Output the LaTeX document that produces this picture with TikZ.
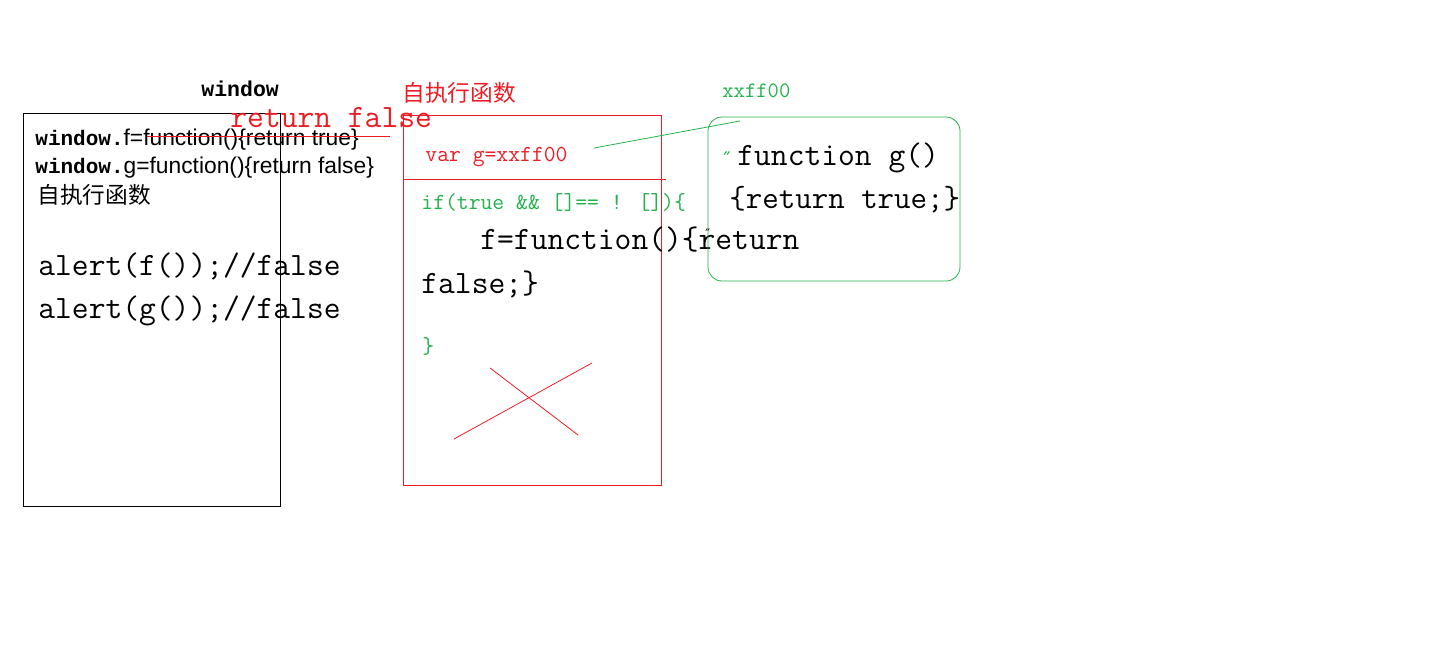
\documentclass[tikz,border=0pt]{standalone}
\usepackage{fontspec}
\newfontfamily\cjk{Noto Sans CJK SC}
\newfontfamily\arial{Liberation Sans}
\newfontfamily\monob{Liberation Mono}
\newfontfamily\dejavu{DejaVu Sans}
\definecolor{pred}{RGB}{237,28,36}
\definecolor{pgreen}{RGB}{34,177,76}

\begin{document}
\begin{tikzpicture}[x=1pt,y=-1pt,line width=0.8pt]
\tikzstyle{txt}=[anchor=base west,inner sep=0]
\tikzstyle{big}=[txt,font=\ttfamily\fontsize{32.6}{33}\selectfont]
\tikzstyle{small}=[txt,font=\ttfamily\fontsize{23}{23}\selectfont]
\tikzstyle{han}=[txt,font=\cjk\fontsize{22.7}{23}\selectfont]
\tikzstyle{sans}=[txt,font=\arial\fontsize{22.8}{23}\selectfont]
\tikzstyle{box}=[draw,inner sep=0]
\useasboundingbox (0,0) rectangle (1442,648);
\begin{scope}
\node[box,minimum width=257,minimum height=393] (win) at (151.5,309.5) {};
\node[txt,font=\monob\bfseries\fontsize{21.5}{22}\selectfont] (title) at (201,96) {window};
\node[sans] (f) at (35,145) {{\monob\bfseries\fontsize{21}{22}\selectfont window.}f=function()\{return true\}};
\node[sans] (g) at (35,173) {{\monob\bfseries\fontsize{21}{22}\selectfont window.}g=function()\{return false\}};
\node[han] (iife) at (37,203) {自执行函数};
\node[big] (af) at (38,275) {alert(f());//false};
\node[big] (ag) at (38,318) {alert(g());//false};
\node[big,pred] (ret) at (230,127) {return false};
\coordinate (s1) at (147,136);
\coordinate (s2) at (390,136);
\draw[pred] (s1) -- (s2);
\end{scope}
\begin{scope}[pred]
\node[box,minimum width=258,minimum height=370] (fn) at (532,300) {};
\node[han] (fnt) at (402,101) {自执行函数};
\coordinate (d1) at (403,179);
\coordinate (d2) at (666,179);
\draw (d1) -- (d2);
\node[small] (var) at (425,161) {var g=xxff00};
\node[small,pgreen] (if) at (421,209) {if(true \&\& []== ! [])\{};
\node[big,black] (fa) at (480,249) {f=function()\{return};
\node[big,black] (fb) at (421,293) {false;\}};
\node[small,pgreen] (end) at (422,353) {\}};
\coordinate (x1) at (454,439);
\coordinate (x2) at (592,363);
\coordinate (x3) at (490,368);
\coordinate (x4) at (578,435);
\draw (x1) -- (x2);
\draw (x3) -- (x4);
\end{scope}
\begin{scope}[pgreen]
\node[box,rounded corners=14pt,minimum width=252,minimum height=164] (gfn) at (834,199) {};
\node[small,font=\ttfamily\fontsize{22}{23}\selectfont] (addr) at (722,97) {xxff00};
\node[txt,font=\dejavu\fontsize{20}{20}\selectfont] (q1) at (723,166) {″};
\node[txt,black,font=\dejavu\fontsize{13}{13}\selectfont] (q2) at (705,238) {″};
\node[big,black] (ga) at (737,165) {function g()};
\node[big,black,font=\ttfamily\fontsize{32}{33}\selectfont] (gb) at (729,208) {\{return true;\}};
\coordinate (v) at (594,148);
\coordinate (p) at (740,121);
\draw (v) -- (p);
\end{scope}
\end{tikzpicture}
\end{document}
